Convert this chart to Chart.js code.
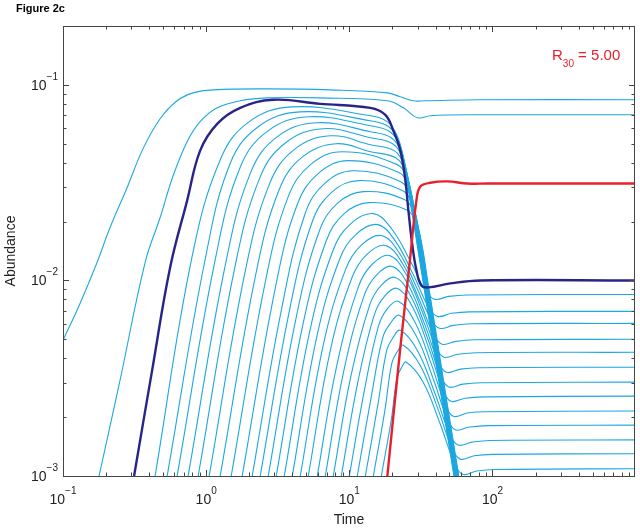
<!DOCTYPE html>
<html>
<head>
<meta charset="utf-8">
<script src="https://cdn.jsdelivr.net/npm/chart.js@4"></script>
<style>
  html, body { margin: 0; padding: 0; background: #fff; }
  #wrap { width: 640px; height: 530px; position: relative; }
</style>
</head>
<body>
<div id="wrap"><canvas id="chart"></canvas></div>
<script>
/* DATA: [time, abundance] */
const sp1 = [[0.1,0.00494],[0.1315,0.00763],[0.1729,0.01235],[0.2131,0.01864],[0.2803,0.0298],[0.3625,0.0472],[0.4769,0.0671],[0.6269,0.0829],[0.811,0.0910],[1.119,0.0943],[2.671,0.0954],[7.363,0.0943],[18.44,0.0910],[22.73,0.0869],[28.03,0.0829],[34.0,0.0829],[82.4,0.0839],[990,0.0839]];
const sp2 = [[0.1785,0.001],[0.2504,0.00309],[0.3745,0.01235],[0.4769,0.02097],[0.5878,0.0343],[0.7365,0.0512],[0.9079,0.0648],[1.194,0.0763],[1.729,0.0829],[2.671,0.0858],[6.269,0.0858],[18.44,0.0829],[23.86,0.0763],[29.90,0.0679],[36.85,0.0695],[70.19,0.0703],[990,0.0703]];
// highlighted species (dark blue)
const sp3 = [[0.3137,0.001],[0.4193,0.00347],[0.5602,0.01165],[0.7365,0.0256],[0.9079,0.0461],[1.194,0.0632],[1.729,0.0763],[2.942,0.0839],[6.269,0.0800],[14.03,0.0763],[17.85,0.0703],[20.31,0.0583],[22.73,0.0461],[24.64,0.0324],[25.86,0.0228],[27.58,0.01509],[29.42,0.0113],[31.88,0.0094],[35.68,0.00921],[50.85,0.00966],[82.44,0.0100],[990,0.0100]];

// species that crash to extinction
const sp4  = [[0.4397,0.001],[0.798,0.01326],[1.263,0.0419],[1.992,0.0647],[3.994,0.0772],[14.03,0.0695],[18.49,0.0647],[21.74,0.0543],[23.93,0.0414],[25.98,0.0285],[34.34,0.00791],[44.28,0.00244],[53.80,0.001],[58.68,0.00067]];
const sp5  = [[0.5338,0.001],[0.990,0.0131],[1.479,0.0400],[2.313,0.0611],[4.543,0.0728],[14.03,0.0655],[18.86,0.0611],[22.16,0.0512],[24.40,0.0391],[26.49,0.0268],[34.56,0.00791],[44.57,0.00244],[54.15,0.001],[59.06,0.00067]];
const sp6  = [[0.6269,0.001],[1.154,0.01265],[1.732,0.0380],[2.688,0.0580],[5.168,0.0687],[14.03,0.0618],[19.23,0.0576],[22.58,0.0483],[24.88,0.0368],[27.01,0.0253],[34.79,0.00791],[44.86,0.00244],[54.50,0.001],[59.44,0.00067]];
const sp7  = [[0.7484,0.001],[1.365,0.01213],[2.048,0.0357],[3.127,0.0542],[5.877,0.0640],[14.03,0.0576],[19.63,0.0537],[23.07,0.0450],[25.41,0.0343],[27.58,0.02357],[35.01,0.00791],[45.15,0.00244],[54.85,0.001],[59.82,0.00067]];
const sp8  = [[0.8793,0.001],[1.585,0.01162],[2.377,0.03365],[3.592,0.0506],[6.579,0.0597],[14.03,0.0537],[20.08,0.0500],[23.59,0.0419],[25.98,0.0320],[28.20,0.02197],[35.24,0.00791],[45.44,0.00244],[55.22,0.001],[60.23,0.00067]];
const sp9  = [[1.0495,0.001],[1.871,0.01106],[2.780,0.03136],[4.139,0.0468],[7.363,0.0549],[14.03,0.0494],[20.57,0.0461],[24.16,0.0386],[26.62,0.0295],[28.89,0.0202],[35.47,0.00791],[45.74,0.00244],[55.58,0.001],[60.62,0.00067]];
const sp10 = [[1.253,0.001],[2.205,0.01046],[3.224,0.02892],[4.707,0.0428],[8.111,0.0500],[14.03,0.0455],[21.07,0.0424],[24.75,0.0356],[27.27,0.0272],[29.60,0.01864],[35.70,0.00791],[46.04,0.00244],[55.94,0.001],[61.01,0.00067]];
const sp11 = [[1.496,0.001],[2.594,0.00988],[3.733,0.02667],[5.355,0.0391],[8.933,0.0455],[21.59,0.0391],[25.37,0.0328],[27.94,0.0250],[30.32,0.01717],[35.93,0.00791],[46.34,0.00244],[56.30,0.001],[61.41,0.00067]];
const sp12 = [[1.785,0.001],[3.052,0.00928],[4.322,0.02436],[6.080,0.0353],[9.840,0.0410],[22.19,0.0356],[26.07,0.0298],[28.71,0.0228],[31.16,0.01563],[36.17,0.00791],[46.64,0.00244],[56.66,0.001],[61.80,0.00067]];
const sp13 = [[2.097,0.001],[3.373,0.00722],[4.916,0.0220],[6.795,0.03155],[10.66,0.0364],[22.84,0.0320],[26.83,0.0268],[29.55,0.02047],[32.08,0.01406],[36.40,0.00791],[46.94,0.00244],[57.03,0.001],[62.20,0.00067]];
const sp14 = [[2.386,0.001],[3.781,0.00677],[5.503,0.0199],[7.518,0.0282],[11.56,0.0324],[23.51,0.0288],[27.63,0.0241],[30.42,0.01842],[33.03,0.01265],[36.64,0.00791],[47.25,0.00244],[57.40,0.001],[62.61,0.00067]];
const sp15 = [[2.714,0.001],[4.225,0.00631],[6.158,0.0178],[8.323,0.0249],[12.53,0.02845],[24.24,0.0259],[28.48,0.0217],[31.37,0.01657],[34.0,0.01138],[36.88,0.00791],[47.55,0.00244],[57.78,0.001],[63.02,0.00067]];
const sp16 = [[3.087,0.001],[4.722,0.00587],[6.894,0.01592],[9.211,0.02197],[13.58,0.0250],[25.03,0.0230],[29.42,0.0193],[32.39,0.01474],[35.12,0.01012],[37.12,0.00791],[47.86,0.00244],[58.15,0.001],[63.42,0.00067]];

// species that persist after the invasion
const sp17 = [[3.512,0.001],[5.286,0.00547],[7.703,0.01426],[10.16,0.01942],[14.72,0.02197],[19.79,0.01832],[26.62,0.0126],[34.12,0.00885],[39.55,0.0080],[49.56,0.00829],[66.22,0.00843],[990,0.00848]];
const sp18 = [[3.994,0.001],[5.906,0.00509],[8.527,0.01275],[11.10,0.01715],[15.70,0.0193],[20.97,0.01589],[28.07,0.01066],[35.74,0.0073],[41.31,0.00655],[51.76,0.00679],[69.18,0.00691],[990,0.00695]];
const sp19 = [[4.543,0.001],[6.611,0.00475],[9.437,0.01142],[12.11,0.01515],[16.74,0.01697],[22.16,0.01394],[29.32,0.0093],[37.02,0.00635],[42.59,0.00569],[53.37,0.00589],[71.32,0.0060],[990,0.00603]];
const sp20 = [[5.168,0.001],[7.399,0.00445],[10.43,0.01032],[13.21,0.01354],[17.85,0.01509],[23.47,0.01224],[30.87,0.00795],[38.74,0.0053],[44.42,0.00472],[55.66,0.00488],[74.35,0.00497],[990,0.0050]];
const sp21 = [[5.973,0.001],[8.164,0.00366],[11.60,0.00933],[14.46,0.0121],[19.05,0.01342],[24.80,0.01081],[32.29,0.00694],[40.19,0.00456],[45.85,0.00405],[57.45,0.00419],[76.78,0.00427],[990,0.00429]];
const sp22 = [[6.795,0.001],[9.138,0.00343],[12.67,0.00834],[15.52,0.01068],[19.98,0.01179],[25.94,0.00942],[33.67,0.00594],[41.84,0.00384],[47.69,0.00339],[59.75,0.00352],[79.81,0.00358],[990,0.0036]];
const sp23 = [[7.728,0.001],[10.24,0.00322],[13.85,0.00746],[16.69,0.00943],[20.97,0.01036],[27.14,0.00821],[35.12,0.00509],[43.57,0.00324],[49.56,0.00285],[62.09,0.00295],[82.96,0.0030],[990,0.00302]];
const sp24 = [[8.79,0.001],[11.47,0.00302],[14.96,0.00668],[17.71,0.00834],[21.66,0.0091],[28.07,0.00717],[36.38,0.00438],[45.13,0.00276],[51.34,0.00241],[64.33,0.0025],[85.97,0.00254],[990,0.00256]];
const sp25 = [[10.0,0.001],[12.81,0.0028],[16.0,0.00586],[18.53,0.0072],[22.01,0.00782],[28.71,0.00613],[37.45,0.00372],[46.76,0.00232],[53.37,0.00202],[66.87,0.0021],[89.33,0.00213],[990,0.00215]];
const sp26 = [[11.37,0.001],[14.27,0.00257],[17.10,0.00509],[19.35,0.00603],[22.37,0.00663],[29.36,0.0052],[38.49,0.00315],[48.29,0.00197],[55.30,0.00172],[69.29,0.00178],[92.56,0.00181],[990,0.00182]];
const sp27 = [[12.94,0.001],[15.90,0.00236],[18.23,0.00437],[20.21,0.0051],[22.73,0.00556],[30.03,0.00436],[39.68,0.00264],[50.04,0.00165],[57.45,0.00144],[72.01,0.00149],[96.21,0.00152],[990,0.00153]];
const sp28 = [[14.72,0.001],[17.71,0.00216],[19.79,0.00376],[21.63,0.00432],[23.86,0.00466],[31.37,0.00366],[41.31,0.00223],[51.92,0.0014],[59.53,0.00122],[74.59,0.00127],[99.68,0.00129],[990,0.0013]];
const sp29 = [[16.74,0.001],[19.66,0.00195],[21.49,0.00316],[23.10,0.00357],[25.03,0.00382],[32.87,0.00301],[43.08,0.00185],[54.06,0.00117],[61.88,0.00102],[77.54,0.00106],[103.6,0.00108],[990,0.00109]];

// invader (red)
const sp30 = [[17.46,0.00067],[18.44,0.001],[22.73,0.00455],[26.28,0.01193],[29.42,0.0256],[31.37,0.0302],[36.85,0.0316],[48.45,0.0321],[66.87,0.0313],[92.26,0.0313],[990,0.0313]];

const X_TICKS = [0.1, 1, 10, 100];
const X_EXP = ['\u22121', '0', '1', '2'];
const Y_TICKS = [0.001, 0.01, 0.1];
const Y_EXP = ['\u22123', '\u22122', '\u22121'];

const CYAN = '#1ca8e0', NAVY = '#2a2489', RED = '#e8202a';
const FONT = "'Liberation Sans', Arial, sans-serif";

const cyanSets = [sp1, sp2, sp4, sp5, sp6, sp7, sp8, sp9, sp10, sp11, sp12, sp13, sp14, sp15, sp16,
  sp17, sp18, sp19, sp20, sp21, sp22, sp23, sp24, sp25, sp26, sp27, sp28, sp29];

const toXY = arr => arr.map(([x, y]) => ({ x, y }));
const line = (arr, color, width, order) => ({
  data: toXY(arr), borderColor: color, borderWidth: width, order,
  pointRadius: 0, tension: 0.4, fill: false, clip: 0
});

const datasets = [
  line(sp30, RED, 2.4, 0),
  line(sp3, NAVY, 2.4, 1),
  ...cyanSets.map(s => line(s, CYAN, 1.1, 2))
];

/* axes box, inward ticks, labels */
const frame = {
  id: 'frame',
  afterDraw(chart) {
    const { ctx, chartArea: a, scales: { x, y } } = chart;
    ctx.save();
    ctx.strokeStyle = '#454545';
    ctx.lineWidth = 1;
    ctx.strokeRect(a.left + 0.5, a.top + 0.5, a.right - a.left - 1, a.bottom - a.top);

    const minor = (ticks, max) => {
      const out = [];
      ticks.forEach(d => { for (let m = 2; m <= 9; m++) if (d * m < max) out.push(d * m); });
      return out;
    };
    ctx.beginPath();
    const xt = (v, len) => {
      const px = Math.round(x.getPixelForValue(v)) + 0.5;
      ctx.moveTo(px, a.bottom); ctx.lineTo(px, a.bottom - len);
      ctx.moveTo(px, a.top); ctx.lineTo(px, a.top + len);
    };
    const yt = (v, len) => {
      const py = Math.round(y.getPixelForValue(v)) + 0.5;
      ctx.moveTo(a.left, py); ctx.lineTo(a.left + len, py);
      ctx.moveTo(a.right, py); ctx.lineTo(a.right - len, py);
    };
    X_TICKS.forEach(v => xt(v, 6));
    minor(X_TICKS, x.max).forEach(v => xt(v, 3.5));
    Y_TICKS.forEach(v => yt(v, 6));
    minor(Y_TICKS, y.max).forEach(v => yt(v, 3.5));
    ctx.stroke();

    ctx.fillStyle = '#222';
    ctx.textBaseline = 'alphabetic';
    const big = '14px ' + FONT, sm = '10px ' + FONT;
    X_TICKS.forEach((v, i) => {
      const px = x.getPixelForValue(v);
      ctx.font = big; const w1 = ctx.measureText('10').width;
      ctx.font = sm; const w2 = ctx.measureText(X_EXP[i]).width;
      const s = px - (w1 + w2) / 2;
      ctx.textAlign = 'left';
      ctx.font = big; ctx.fillText('10', s, 504);
      ctx.font = sm; ctx.fillText(X_EXP[i], s + w1, 494);
    });
    Y_TICKS.forEach((v, i) => {
      const py = y.getPixelForValue(v);
      ctx.textAlign = 'right';
      ctx.font = sm; const w2 = ctx.measureText(Y_EXP[i]).width;
      ctx.fillText(Y_EXP[i], 58, py - 5);
      ctx.font = big; ctx.fillText('10', 58 - w2, py + 5);
    });

    ctx.font = '14px ' + FONT;
    ctx.textAlign = 'center';
    ctx.fillText('Time', (a.left + a.right) / 2, 524);
    ctx.save();
    ctx.translate(15, (a.top + a.bottom) / 2);
    ctx.rotate(-Math.PI / 2);
    ctx.fillText('Abundance', 0, 0);
    ctx.restore();

    ctx.textAlign = 'left';
    ctx.fillStyle = '#000';
    ctx.font = 'bold 11px ' + FONT;
    ctx.fillText('Figure 2c', 16, 12);

    ctx.fillStyle = RED;
    ctx.font = '15px ' + FONT;
    ctx.fillText('R', 552, 60);
    const wR = ctx.measureText('R').width;
    ctx.font = '10px ' + FONT;
    ctx.fillText('30', 552 + wR, 67);
    const w30 = ctx.measureText('30').width;
    ctx.font = '15px ' + FONT;
    ctx.fillText(' = 5.00', 552 + wR + w30, 60);
    ctx.restore();
  }
};

new Chart(document.getElementById('chart'), {
  type: 'line',
  data: { datasets },
  options: {
    responsive: true, maintainAspectRatio: false, animation: false,
    layout: { padding: { left: 63, right: 5, top: 26, bottom: 54 } },
    plugins: { legend: { display: false }, tooltip: { enabled: false } },
    scales: {
      x: { type: 'logarithmic', min: 0.1, max: 990, display: false },
      y: { type: 'logarithmic', min: 0.001, max: 0.2, display: false }
    }
  },
  plugins: [frame]
});
</script>
</body>
</html>
